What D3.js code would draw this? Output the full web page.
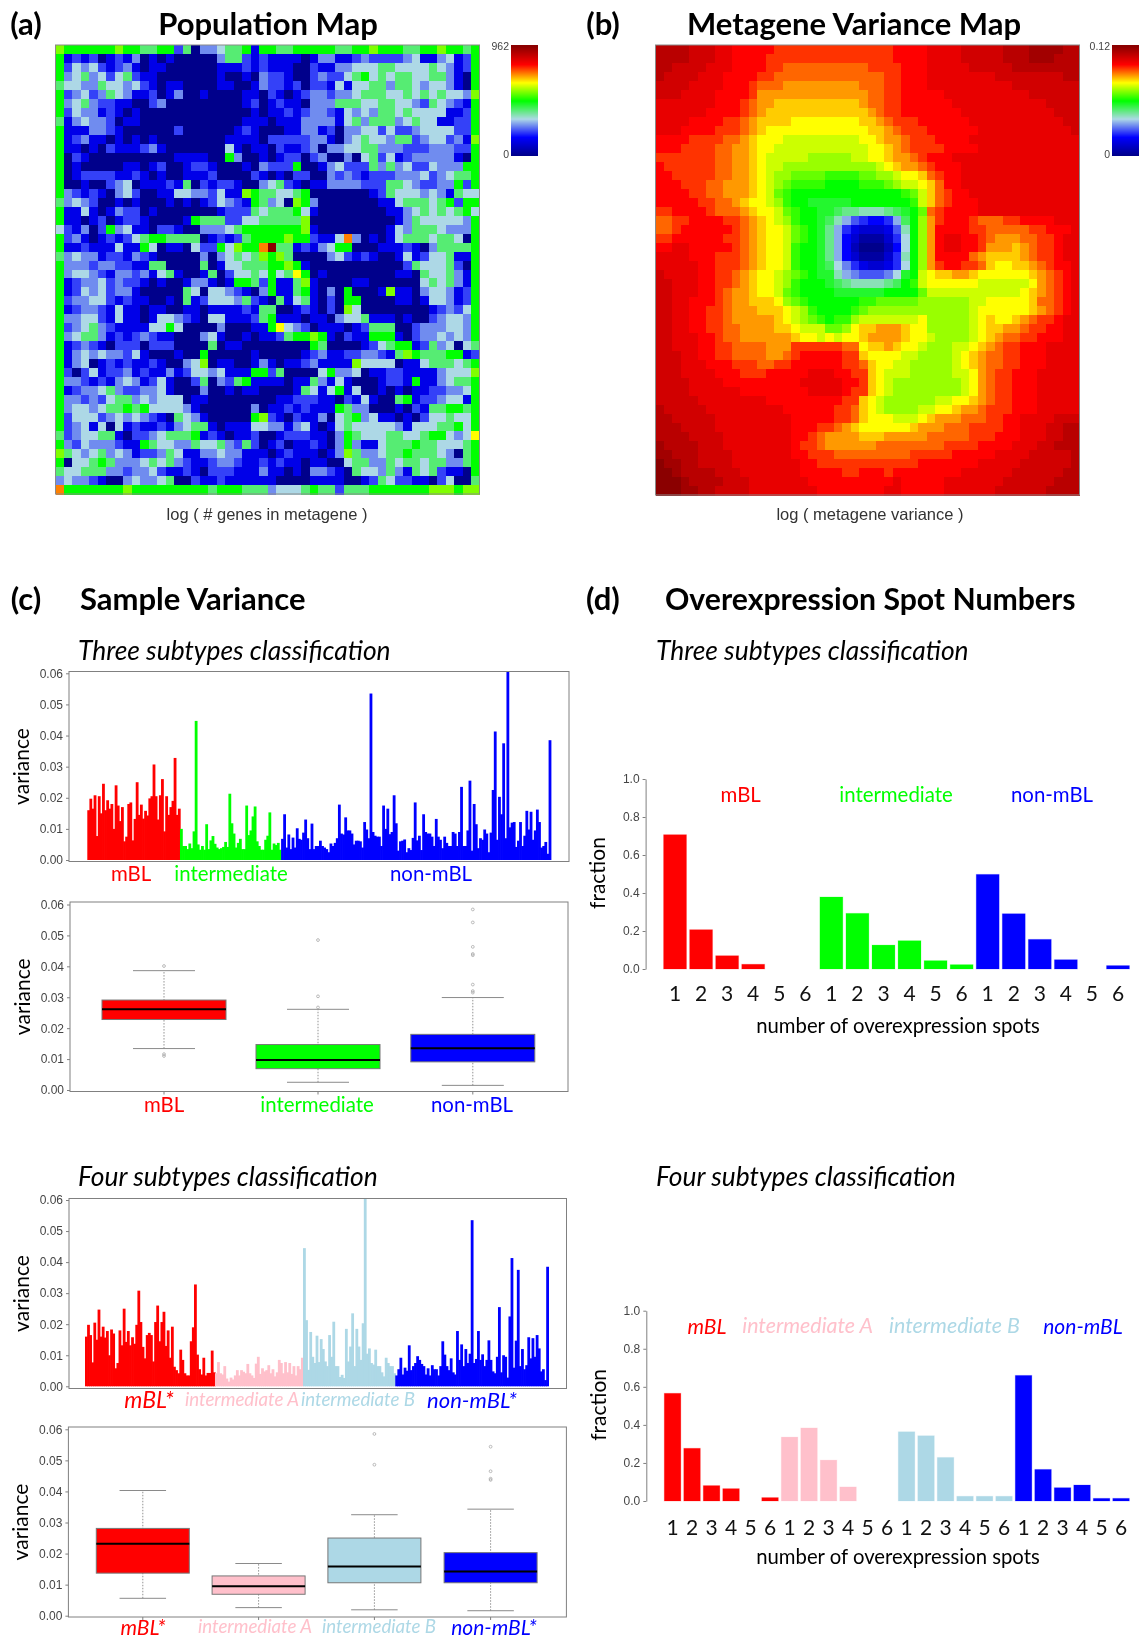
<!DOCTYPE html>
<html>
<head>
<meta charset="utf-8">
<script src="https://cdn.jsdelivr.net/npm/d3@7"></script>
<style>
  html, body { margin: 0; padding: 0; background: #fff; }
  svg { display: block; filter: blur(0.4px); }
  text { font-family: Lato, sans-serif; }
  .tick text, .rlabel { font-family: "Liberation Sans", Arial, sans-serif; }
</style>
</head>
<body>
<svg id="fig" width="1142" height="1637"></svg>
<script>
// population map, one char per cell, 0 (none) to c (most)
const populationRows = [
  '7666666766 5566250334 5561665566 6665566766 6556676656',
  '6121201213 0101000003 5521211110 1331123222 2341134126',
  '6243421231 0110000001 1121211100 2113344455 4444543126',
  '6345342452 1100000001 0010322100 2322456454 5544553106',
  '5443354434 2101100001 1001322120 2214144553 5543443106',
  '6234235431 1201300100 0011021012 3323345554 4545454437',
  '6345322110 0230000000 0012012110 3335554455 4432543216',
  '6243312101 0000000000 0001011212 3321434355 4544441126',
  '5134332011 0000000000 0011101113 3331453555 3454411226',
  '6111332100 0000200000 0121000113 3120334424 2234444226',
  '6123110101 0100000000 1111022222 3310345443 5523442317',
  '6110102111 2310000000 4101102112 3033445533 3222333226',
  '6021000000 0000111100 6300101220 2300304524 1233333106',
  '6010000011 0120012210 0010322260 0134222535 3422433366',
  '6012222112 1010011120 0002101022 0032321222 3334234556',
  '6001002340 1112150212 2100345210 1133332225 5432233626',
  '6321210342 0011443324 1176554456 0000000125 4443431544',
  '5343200101 0001010124 3216534076 3000000011 4555456266',
  '6114101322 0100000001 2225455564 1000000001 1345454564',
  '6110120122 1000016555 2244555557 0000000000 1354444436',
  '4213026341 1022100333 4566666667 1000000001 4355543336',
  '6231012124 5665555012 1256666766 2114930101 4555455406',
  '6112111411 6401104226 47669c5512 1346600011 1210355556',
  '5343312213 2100000303 4545767500 0034212100 1412445116',
  '6333233221 1550000501 4455566761 0000000000 0254445206',
  '6344321332 3145100150 2445464586 0100000000 1105445316',
  '6123342322 1010013310 1665261157 1000011000 0004545316',
  '6124342331 0000054044 3210361156 1030600017 1103443126',
  '6233442121 1001051244 4352105145 1020660000 1101443126',
  '6123321411 0110011011 1121550012 1020740000 0000123246',
  '6334421411 0144321044 1112561110 1103445111 0100234436',
  '6234532111 1446400003 0001168432 0111012555 0023334436',
  '6345531212 3211000341 0010112566 7610211666 1023343436',
  '6123210222 0222000050 1100000000 6500001245 6612534045',
  '6134343324 1000100600 0001000001 2311223321 5765556612',
  '6134012121 1210034701 1001310112 3111174444 0114555456',
  '6202412231 2113124434 1116625000 0463340112 2111134447',
  '6332121343 1241002503 2561111011 5314100012 2161134556',
  '6123345322 3341000300 1011000015 4146140010 1011223346',
  '6332324553 4344401100 0000001122 2110214100 5612234416',
  '6344345565 6444431000 0003011212 1116533000 1021556656',
  '6244423434 3210543100 0006721021 1304563411 0102445446',
  '6234140412 1121345510 1114433134 1014544444 3144455646',
  '5234455102 2345556121 0112001222 1103654445 5445664348',
  '6324333211 6544335445 3252012011 2103631145 5565544456',
  '7543453431 2235411334 3311101211 1013753345 5655543056',
  '6044565333 4545321123 3211212110 1100455335 4554553356',
  '5445553323 3421121022 2111311010 3321054435 3154521106',
  '3433210034 3345002112 1111110000 1111001254 2211024005',
  '9666666676 6666666656 6655534445 6552555666 6666777677'
];

// metagene variance, base 36 char per cell, 0 (low) to u (high)
const varianceRows = [
  'ssssrrrqqp ppppoooooo oooooooopp ppqqqqrrrr rsssttttss',
  'ssssrrrqqp pppooooooo oooooooopp ppqqqqrrrr rssstttsss',
  'ssrrrrqqqp pppoonnnnn nnnnnoooop ppqqqqqrrr rrssssssss',
  'srrrrqqqpp ppoonnnnnn nnnnnnnoop ppqqqqqqqq rrrrrrrrss',
  'rrrrqqqqpp ponnnmmmmm mmmmnnnoop ppqqqqqqqq qqrrrrrrrr',
  'rrrqqqqppp pommmmmmmm mmmmmnnoop ppppqqqqqq qqqqrrrrrr',
  'qqqqqqqppp onmmllllll llllmnnoop pppppqqqqq qqqqqqrrrr',
  'qqqqqqpppp onmlllllll lllllmnoop ppppppqqqq qqqqqqqrrr',
  'qqqqppppoo nmllllkkkk kkkkllmnoo oppppppqqq qqqqqqqqrr',
  'qqqppppooo nmlkkkkkkk kkkkkllmno ooppppppqq qqqqqqqqqr',
  'ppppoooonn mlkkkjjjjj jjjjkklmmn oooppppqqq qqqqqqqqqq',
  'pppoooonnm mlkkjjjjjj jjjjjkklmn ooooppppqq qqqqqqqqqq',
  'ooooooonnm mlkjjjjjii iiijjkklmm nopppqqqqq qqqqqqqqqq',
  'poooooonnm mlkjjiiiii iiiiiijklm mnopppqqqq qqqqqqqqqq',
  'ppooooonnm mlkjiihhhh gggghhiijk klnoppqqqq qqqqqqqqqq',
  'pppooonnmm mlkjihgggg ffffggghij jklnppqqqq qqqqqqqqqq',
  'ppppoonnmm mlkjhgffff fffffffffg hjlnoppqqq qqqqqqqqqq',
  'pppppoonnm lkkjigffee eeefffffff gjlnopppqq qqqqqqqqqq',
  'oopppponnn mlkkjhgffe edccbbbcde fhnoppppqq qqqqqqqqqq',
  'nnooppppoo nmlkjigffe db9765569d fimoppponn nooppppqqq',
  'nnoppppppo nmlkkjhgfe c96433347b fimppppoon nnnnoopppq',
  'ooppppppoo nmlkkjhgfe c95311136a fimpqqppon mmmnnoopqq',
  'ppqqpppppo nmlkkjgffe c95200025a fimpqqppom mmlmnoopqq',
  'qqqqpppooo nmlkkjgffe c95311136b fimppppnml lllmnoopqq',
  'qqqqqppooo nmlkkjgffe da8643346a fimoppoonl kkllmnoppq',
  'rqqqqppoon mlkkjihgfe eb987778ae fjkllmmlkk kkkklmnopq',
  'rrqqqppoon mlkkjigfff edcbbbbcdf gjkkkkkkjj jjjjkmnopq',
  'rrqqqpponm mlkkjhgfff feeeeeefff fhjjjjjjjj jjjklmnopq',
  'rrqqppponm mlllkihgff ffffgghhhh hiiiiiijjk kkkklnnopq',
  'rrqqppoonm mmlllkjigf fffghiiiii iiiiiiijkk kkkklmnopq',
  'rrqqppoonm mmmmlkjihg fggijjjjjj jkiiiiijkl kklmnoopqq',
  'rrqqppoonn mmmmllkjjj hhikllmmml kkiiiiijkl lmmnooppqq',
  'rrqqqpponn mmmmmmlkkj kjkklmmmml kkjiiiijkl mnnoopppqq',
  'rrqqqppoon nnnmmmoooo oonnkllmlk kjiiijjklm noopppqqqq',
  'rrrqqppoon nnnmmnoppp ppoolkkkkj jiiiijklmn noopppqqqq',
  'rrrqqqpppo oonnoopppp ppoonlkkjj iiiiijklmn noopppqqqq',
  'rrrqqqqppp ooopppppqq qppoolkjjj iiiiijjkmn oopppqqqqq',
  'rrrrqqqqpp pppppppqqq qqppolkjii iiiiiijkmn oopppqqqqq',
  'rrrrqqqqqq ppppppppqq qqpoolkjii iiiiiijkmn oopppqqqqq',
  'rrrrrqqqqq qqqppppppp ppoolkjiii iiijjkklmn oopppqqqqq',
  'srrrrrqqqq qqqqqppppp poonlkjiii ijjkklmmno oopppqqqqq',
  'ssrrrrrqqq qqqqqqpppp poonlkkkjj jklmmmnnno oppqqqqrrr',
  'sssrrrrqqq qqqqqqpppo onmlkkkkkk lmmmnnnooo oppqqqrrss',
  'ssssrrrrqq qqqqqqppon mmmmlllmmm mmnnnnnooo pppqqqrrss',
  'tssssrrrqq qqqqqqpoon mmmmmmnnnn nnnnoooopp ppqqqrrsss',
  'ttsssrrrrq qqqqqqppoo onnnnnnnnn oooooppppp qqqqrrrrrs',
  'uttssrrrrq qqqqqqqppo oooooooooo opppppppqq qqqrrrrrrs',
  'uutssssrrr qqqqqqqppp ppoopppopp ppppppqqqq qqrrrrrrss',
  'uuutssssrr rqqqqqqqpp ppppppppqp ppppqqqqqq qrrrrrrsss',
  'uuuttssrrr rqqqqqqqqp pppppppqqp ppppqqqqqq rrrrrrssss'
];

// sample variance, three subtypes classification
const threeMbl = [.016,.0197,.0165,.0208,.0077,.0205,.015,.0245,.016,.0192,.0165,.018,.01,.024,.0175,.0125,.017,.006,.0075,.018,.0185,.0063,.0132,.025,.0145,.0178,.0133,.0158,.0143,.0198,.0205,.0307,.0205,.013,.0208,.026,.0092,.0205,.0145,.017,.019,.0328,.0145,.0165];
const threeInter = [.01,.0045,.0045,.0035,.0053,.0038,.0092,.0447,.005,.0033,.0045,.0033,.0115,.0035,.0063,.0077,.0052,.004,.0035,.0038,.0042,.0058,.0042,.0213,.0118,.0085,.004,.0055,.0068,.0035,.0035,.0175,.008,.0095,.014,.0172,.006,.0045,.0033,.0033,.0065,.0078,.0153,.0033,.0053,.0048,.0055,.0033];
const threeNon = [.0068,.0147,.004,.0082,.0035,.0072,.004,.0102,.0068,.0065,.0088,.013,.007,.0035,.0117,.0035,.0045,.0045,.0062,.0045,.004,.0035,.0025,.0053,.0045,.0055,.007,.0178,.0085,.0082,.0137,.0095,.0095,.0085,.005,.0062,.0062,.006,.004,.0122,.0098,.007,.0535,.009,.0078,.0075,.0075,.0045,.0175,.01,.0165,.0083,.009,.0208,.0118,.003,.006,.0062,.0066,.0025,.0038,.0032,.0071,.0185,.0063,.0078,.0032,.0147,.009,.0085,.0085,.0075,.0045,.0132,.0075,.0065,.0038,.0075,.0055,.0045,.0045,.009,.0085,.0045,.009,.0235,.0045,.0045,.0095,.0255,.003,.018,.0115,.0038,.007,.0065,.0098,.0085,.0025,.0088,.0225,.0413,.0065,.0203,.0147,.0375,.007,.0605,.0105,.012,.0122,.0042,.0062,.0122,.0045,.0078,.0158,.0098,.0155,.0065,.0095,.0162,.0122,.004,.0045,.0058,.002,.0385];

// sample variance, four subtypes classification
const fourMbl = [.016,.0198,.0165,.0077,.0205,.015,.0247,.016,.0192,.0157,.0178,.01,.0183,.017,.0058,.0075,.018,.0132,.025,.0143,.0178,.0132,.0158,.0137,.0198,.0308,.0207,.0127,.009,.0165,.0172,.0165,.008,.0207,.026,.0145,.0207,.024,.013,.018,.0092,.0192,.0063,.0052,.0042,.0118,.0085,.0042,.0035,.0035,.0145,.019,.0328,.0102,.0055,.0038,.0092,.0035,.0043,.0043,.0115,.0045];
const fourInterA = [.0042,.0078,.0042,.0038,.0065,.0025,.0015,.0028,.0022,.0035,.0052,.0035,.0052,.0047,.0042,.0072,.0042,.0035,.0027,.0073,.0095,.004,.0058,.0048,.0052,.0068,.0042,.0055,.0032,.0045,.0085,.0075,.0042,.0078,.0045,.0075,.004,.0065,.0035,.0065,.0055,.0092];
const fourInterB = [.0445,.0213,.0053,.0175,.0095,.0075,.0163,.0078,.0152,.012,.008,.0065,.0165,.0095,.0208,.0065,.0065,.003,.0037,.0027,.0185,.008,.0128,.0235,.0065,.0185,.0128,.0085,.0203,.0605,.0105,.0122,.0075,.007,.0118,.0065,.0065,.0045,.0032,.0092,.0075,.0065,.0065,.0042];
const fourNon = [.0035,.0055,.0092,.0038,.006,.005,.0132,.0052,.0065,.0075,.0097,.0085,.0072,.0065,.0038,.0058,.0035,.0068,.0055,.0055,.0035,.0065,.0145,.0102,.0065,.0052,.009,.0045,.0038,.0178,.0085,.0135,.0065,.012,.0075,.0105,.0535,.0075,.0088,.0178,.0085,.0103,.0065,.0085,.0148,.0085,.0048,.0042,.0095,.0255,.0045,.01,.0095,.0028,.0225,.0413,.006,.0147,.0375,.0065,.012,.0055,.0068,.0158,.009,.0155,.0095,.0165,.0122,.0048,.0055,.002,.0385];

// boxplot stats, [whisker low, q1, median, q3, whisker high]
const threeBoxNames = ['mBL', 'intermediate', 'non-mBL'];
const threeBoxStats = [
  [.0134, .0228, .0261, .0291, .0386],
  [.0025, .0069, .0097, .0147, .0261],
  [.0015, .0091, .0135, .018, .0299]
];
const threeBoxOutliers = [
  [.0401, .0116, .011],
  [.0485, .0303, .0267],
  [.0584, .0542, .0463, .044, .0436, .0341, .032, .0315]
];
const fourBoxNames = ['mBL*', 'intermediate A', 'intermediate B', 'non-mBL*'];
const fourBoxStats = [
  [.0056, .0137, .0232, .0281, .0403],
  [.0026, .0069, .0095, .0128, .0168],
  [.0019, .0106, .0158, .025, .0325],
  [.0016, .0106, .0142, .0203, .0343]
];
const fourBoxOutliers = [
  [],
  [],
  [.0585, .0486],
  [.0544, .0465, .0441, .0437]
];

// overexpression spot fractions
const spotLabels = [1, 2, 3, 4, 5, 6];
const threeSpots = [
  [.707, .207, .07, .025, 0, 0],
  [.379, .293, .126, .149, .044, .023],
  [.498, .291, .156, .049, 0, .018]
];
const fourSpots = [
  [.566, .277, .081, .065, 0, .018],
  [.336, .384, .215, .074, 0, 0],
  [.364, .343, .229, .025, .025, .025],
  [.66, .166, .07, .084, .014, .014]
];

const varianceTicks = [0, .01, .02, .03, .04, .05, .06];
const fractionTicks = [0, .2, .4, .6, .8, 1];
const threeColors = ['#ff0000', '#00ff00', '#0000ff'];
const fourColors = ['#ff0000', '#ffc0cb', '#add8e6', '#0000ff'];
const rampColors = ['#00008b', '#0000ff', '#add8e6', '#00ff00', '#ffff00', '#ff0000', '#8b0000'];

const svg = d3.select('#fig');
const ramp = d3.scaleLinear().domain(d3.range(7).map(i => i / 6)).range(rampColors).interpolate(d3.interpolateRgb);
// the low counts sit higher on the colour ramp than the plain char value
const populationLevel = d3.scaleLinear().domain([ 0, 1, 2, 3, 4, 12 ]).range([ 0, 1.6, 2.6, 3.3, 4, 12 ]);

function label(str, x, y, opts = {}) {
    const t = svg.append('text')
    .attr('x', x)
    .attr('y', y)
    .attr('text-anchor', opts.anchor || 'middle')
    .attr('dominant-baseline', 'central')
    .attr('font-size', opts.size || 20.4)
    .attr('fill', opts.fill || '#000')
    .attr('font-weight', opts.weight || 'normal')
    .attr('font-style', opts.style || 'normal')
    .text(str);
    if (opts.rotate) t.attr('transform', 'rotate(-90 ' + x + ' ' + y + ')');
    if (opts.cls) t.attr('class', opts.cls);
    return t;
}

// heatmap cells, one rect per char
function drawMap(rows, radix, toRamp, box) {
    const cells = rows.map(r => r.replace(/ /g, '').split('').map(c => parseInt(c, radix)));
    const x = d3.scaleBand().domain(d3.range(50)).range([ box.x0, box.x1 ]);
    const y = d3.scaleBand().domain(d3.range(50)).range([ box.y0, box.y1 ]);
    const g = svg.append('g').attr('shape-rendering', 'crispEdges');
    cells.forEach((row, r) => {
        g.selectAll(null)
        .data(row)
        .enter()
        .append('rect')
        .attr('x', (d, c) => x(c))
        .attr('y', y(r))
        .attr('width', x.bandwidth() + 0.5)
        .attr('height', y.bandwidth() + 0.5)
        .attr('fill', d => ramp(toRamp(d)));
    });
    svg.append('rect')
    .attr('x', box.x0).attr('y', box.y0)
    .attr('width', box.x1 - box.x0).attr('height', box.y1 - box.y0)
    .attr('fill', 'none').attr('stroke', '#8a8a8a');
}

function drawColorbar(x0, x1, y0, y1, maxLabel) {
    const steps = d3.range(110);
    const y = d3.scaleBand().domain(steps).range([ y1, y0 ]);
    svg.append('g').attr('shape-rendering', 'crispEdges')
    .selectAll('rect')
    .data(steps)
    .enter()
    .append('rect')
    .attr('x', x0)
    .attr('y', d => y(d))
    .attr('width', x1 - x0)
    .attr('height', y.bandwidth() + 0.5)
    .attr('fill', d => ramp(d / 109));
    label(maxLabel, x0 - 2, y0 + 1, { anchor: 'end', size: 10.5, fill: '#444', cls: 'rlabel' });
    label('0', x0 - 2, y1 - 1, { anchor: 'end', size: 10.5, fill: '#444', cls: 'rlabel' });
}

function styleAxis(g) {
    g.selectAll('.domain').attr('stroke', '#808080');
    g.selectAll('.tick line').attr('stroke', '#808080');
    g.selectAll('.tick text').attr('fill', '#444').attr('font-size', 12);
}

function varianceAxis(box, y) {
    svg.append('rect')
    .attr('x', box.x0).attr('y', box.y0)
    .attr('width', box.x1 - box.x0).attr('height', box.y1 - box.y0)
    .attr('fill', 'none').attr('stroke', '#808080');
    const g = svg.append('g')
    .attr('transform', 'translate(' + box.x0 + ',0)')
    .call(d3.axisLeft(y).tickValues(varianceTicks).tickFormat(d3.format('.2f')).tickSize(3).tickSizeOuter(0));
    styleAxis(g);
    g.select('.domain').remove();
    label('variance', box.x0 - 49, (box.y0 + box.y1) / 2, { rotate: true, size: 21 });
}

// one thin bar per sample, groups side by side
function drawSampleBars(groups, colors, box, x0, x1, y0px, y6px) {
    const y = d3.scaleLinear().domain([ 0, .06 ]).range([ y0px, y6px ]);
    const all = [];
    groups.forEach((values, i) => values.forEach(v => all.push({ v: v, group: i })));
    const x = d3.scaleBand().domain(d3.range(all.length)).range([ x0, x1 ]);
    svg.append('g')
    .selectAll('rect')
    .data(all)
    .enter()
    .append('rect')
    .attr('x', (d, i) => x(i))
    .attr('width', x.bandwidth() + 0.7)
    .attr('y', d => Math.max(y(d.v), box.y0))
    .attr('height', d => y0px - Math.max(y(d.v), box.y0))
    .attr('fill', d => colors[d.group]);
    varianceAxis(box, y);
}

function drawBoxes(stats, outliers, colors, box, y0px, y6px, centers, boxWidth) {
    const y = d3.scaleLinear().domain([ 0, .06 ]).range([ y0px, y6px ]);
    const x = d3.scaleOrdinal().domain(d3.range(stats.length)).range(centers);
    const boxes = svg.append('g')
    .selectAll('g')
    .data(stats)
    .enter()
    .append('g')
    .attr('transform', (d, i) => 'translate(' + x(i) + ',0)');
    boxes.append('line')
    .attr('y1', d => y(d[0])).attr('y2', d => y(d[4]))
    .attr('stroke', '#777').attr('stroke-dasharray', '1.5,1.5').attr('stroke-width', 0.8);
    boxes.selectAll('.cap')
    .data(d => [ d[0], d[4] ])
    .enter()
    .append('line')
    .attr('class', 'cap')
    .attr('x1', -boxWidth / 4).attr('x2', boxWidth / 4)
    .attr('y1', d => y(d)).attr('y2', d => y(d))
    .attr('stroke', '#8a8a8a').attr('stroke-width', 1);
    boxes.append('rect')
    .attr('x', -boxWidth / 2).attr('width', boxWidth)
    .attr('y', d => y(d[3])).attr('height', d => y(d[1]) - y(d[3]))
    .attr('fill', (d, i) => colors[i])
    .attr('stroke', '#777');
    boxes.append('line')
    .attr('x1', -boxWidth / 2).attr('x2', boxWidth / 2)
    .attr('y1', d => y(d[2])).attr('y2', d => y(d[2]))
    .attr('stroke', '#000').attr('stroke-width', 2);
    boxes.each(function(d, i) {
        d3.select(this).selectAll('circle')
        .data(outliers[i])
        .enter()
        .append('circle')
        .attr('cy', v => y(v))
        .attr('r', 1.4)
        .attr('fill', 'none')
        .attr('stroke', '#aaa')
        .attr('stroke-width', 0.8);
    });
    varianceAxis(box, y);
    svg.append('g').selectAll('line')
    .data(centers)
    .enter()
    .append('line')
    .attr('x1', d => d).attr('x2', d => d)
    .attr('y1', box.y1).attr('y2', box.y1 + 3)
    .attr('stroke', '#808080');
}

function drawSpotBars(groups, colors, axisX, x0, x1, y0px, y1px, padIn, tickY) {
    const y = d3.scaleLinear().domain([ 0, 1 ]).range([ y0px, y1px ]);
    const all = [];
    groups.forEach((values, i) => values.forEach((v, j) => all.push({ v: v, group: i, spot: spotLabels[j] })));
    const x = d3.scaleBand().domain(d3.range(all.length)).range([ x0, x1 ]).paddingInner(padIn).paddingOuter(padIn / 2);
    svg.append('g')
    .selectAll('rect')
    .data(all)
    .enter()
    .append('rect')
    .attr('x', (d, i) => x(i))
    .attr('width', x.bandwidth())
    .attr('y', d => y(d.v))
    .attr('height', d => y0px - y(d.v))
    .attr('fill', d => colors[d.group])
    .attr('stroke', d => colors[d.group])
    .attr('stroke-opacity', 0.2);
    svg.append('g')
    .selectAll('text')
    .data(all)
    .enter()
    .append('text')
    .attr('x', (d, i) => x(i) + x.bandwidth() / 2)
    .attr('y', tickY)
    .attr('text-anchor', 'middle')
    .attr('dominant-baseline', 'central')
    .attr('font-size', 21)
    .attr('fill', '#111')
    .text(d => d.spot);
    const g = svg.append('g')
    .attr('transform', 'translate(' + axisX + ',0)')
    .call(d3.axisLeft(y).tickValues(fractionTicks).tickFormat(d3.format('.1f')).tickSize(3).tickSizeOuter(0));
    styleAxis(g);
    label('fraction', axisX - 49, (y0px + y1px) / 2 - 1, { rotate: true, size: 21 });
}

// (a), (b) maps
label('(a)', 26, 23, { size: 31, weight: 'bold' });
label('Population Map', 268, 23, { size: 31, weight: 'bold' });
drawMap(populationRows, 16, d => populationLevel(d) / 12, { x0: 55.5, x1: 479.5, y0: 45, y1: 494 });
drawColorbar(511, 538, 45, 155, '962');
label('log ( # genes in metagene )', 267, 514, { size: 16.5, fill: '#333', cls: 'rlabel' });

label('(b)', 603, 23, { size: 31, weight: 'bold' });
label('Metagene Variance Map', 854, 23, { size: 31, weight: 'bold' });
drawMap(varianceRows, 36, d => d / 30, { x0: 655.5, x1: 1079.5, y0: 45, y1: 495 });
drawColorbar(1112, 1139, 45, 155, '0.12');
label('log ( metagene variance )', 870, 514, { size: 16.5, fill: '#333', cls: 'rlabel' });

// (c), (d) headings
label('(c)', 26, 598, { size: 31, weight: 'bold' });
label('Sample Variance', 80, 598, { size: 31, weight: 'bold', anchor: 'start' });
label('(d)', 603, 598, { size: 31, weight: 'bold' });
label('Overexpression Spot Numbers', 665, 598, { size: 30.2, weight: 'bold', anchor: 'start' });
label('Three subtypes classification', 78, 650, { size: 26.4, style: 'italic', anchor: 'start' });
label('Three subtypes classification', 656, 650, { size: 26.4, style: 'italic', anchor: 'start' });
label('Four subtypes classification', 78, 1176, { size: 26.4, style: 'italic', anchor: 'start' });
label('Four subtypes classification', 656, 1176, { size: 26.4, style: 'italic', anchor: 'start' });

// (c) three subtypes
drawSampleBars([ threeMbl, threeInter, threeNon ], threeColors, { x0: 69, x1: 569, y0: 671.5, y1: 861.5 }, 87.3, 550.7, 860, 673.3);
label('mBL', 131, 873, { fill: threeColors[0] });
label('intermediate', 231, 873, { fill: threeColors[1] });
label('non-mBL', 431, 873, { fill: threeColors[2] });

drawBoxes(threeBoxStats, threeBoxOutliers, threeColors, { x0: 70, x1: 568, y0: 902, y1: 1091.5 }, 1090, 904.5, [ 164, 318, 472.8 ], 124);
threeBoxNames.forEach((name, i) => label(name, [ 164, 317, 472 ][i], 1103.5, { fill: threeColors[i] }));

// (c) four subtypes
drawSampleBars([ fourMbl, fourInterA, fourInterB, fourNon ], fourColors, { x0: 69, x1: 566.5, y0: 1198.5, y1: 1388.5 }, 85, 548.3, 1386.3, 1200);
label('mBL*', 149, 1399, { fill: fourColors[0], style: 'italic', size: 23 });
label('intermediate A', 242, 1399, { fill: fourColors[1], style: 'italic', size: 18.7 });
label('intermediate B', 358, 1399, { fill: fourColors[2], style: 'italic', size: 18.7 });
label('non-mBL*', 472, 1399, { fill: fourColors[3], style: 'italic', size: 22 });

drawBoxes(fourBoxStats, fourBoxOutliers, fourColors, { x0: 68.4, x1: 566.4, y0: 1427, y1: 1617 }, 1615.7, 1429.3, [ 142.8, 258.6, 374.4, 490.6 ], 93);
label(fourBoxNames[0], 143, 1626, { fill: fourColors[0], style: 'italic', size: 21 });
label(fourBoxNames[1], 255, 1626, { fill: fourColors[1], style: 'italic', size: 18.7 });
label(fourBoxNames[2], 379, 1626, { fill: fourColors[2], style: 'italic', size: 18.7 });
label(fourBoxNames[3], 494, 1626, { fill: fourColors[3], style: 'italic', size: 21 });

// (d) spot numbers
drawSpotBars(threeSpots, threeColors, 645.6, 662, 1131, 969, 779, 0.12, 992);
label('mBL', 740.7, 794, { fill: threeColors[0] });
label('intermediate', 896, 794, { fill: threeColors[1] });
label('non-mBL', 1052, 794, { fill: threeColors[2] });
label('number of overexpression spots', 898, 1025, { size: 20.3 });

drawSpotBars(fourSpots, fourColors, 646.3, 662.8, 1130.8, 1501, 1310.7, 0.15, 1526);
label('mBL', 707, 1325, { fill: fourColors[0], style: 'italic', size: 21 });
label('intermediate A', 807.6, 1325, { fill: fourColors[1], style: 'italic', size: 21.4 });
label('intermediate B', 954.4, 1325, { fill: fourColors[2], style: 'italic', size: 21.4 });
label('non-mBL', 1083, 1325, { fill: fourColors[3], style: 'italic', size: 21 });
label('number of overexpression spots', 898, 1556, { size: 20.3 });
</script>
</body>
</html>
